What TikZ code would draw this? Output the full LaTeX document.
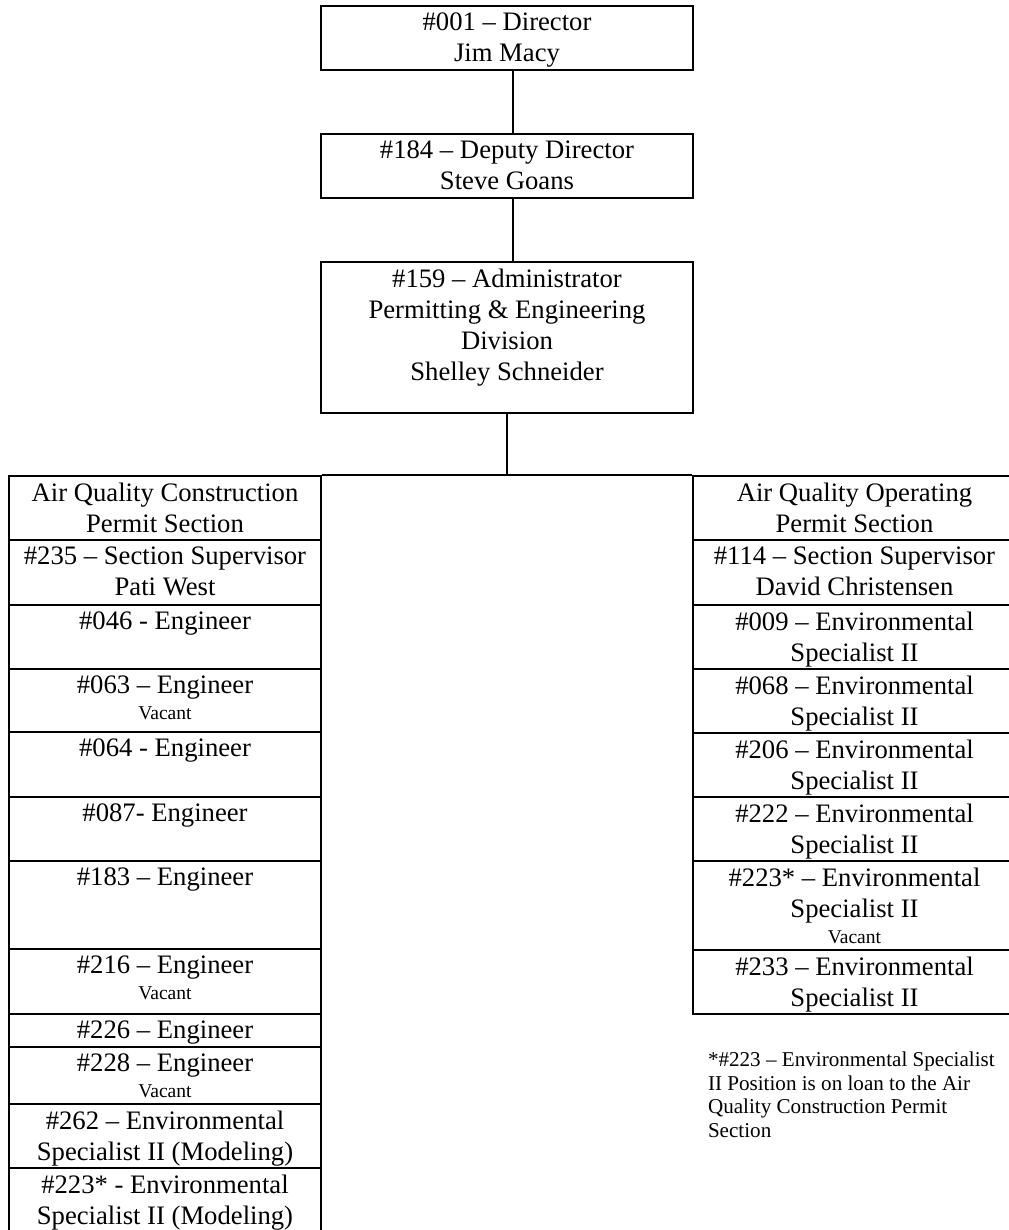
\documentclass[tikz,border=0pt]{standalone}
\usepackage{fontspec}
\setmainfont{Liberation Serif}
\newcommand{\vacfont}{\fontsize{8.8}{10}\selectfont}

\begin{document}
\begin{tikzpicture}[x=0.45pt, y=-0.45pt, line width=0.9pt,
		posbox/.style={draw, inner sep=0pt, anchor=north west, minimum width=167.4pt},
		cellbox/.style={draw, inner sep=0pt, anchor=north west},
		celltext/.style={anchor=north, align=center, inner xsep=0pt, inner ysep=3.1pt, font=\fontsize{12}{13.9}\selectfont}]
	\useasboundingbox (0,0) rectangle (1009,1230);
	\node [posbox, minimum height=28.8pt] (dir) at (320,5) {};
	\node [celltext] (dirt) at (dir.north) {\#001 – Director\\Jim Macy};
	\node [posbox, minimum height=28.8pt] (dep) at (320,133) {};
	\node [celltext] (dept) at (dep.north) {\#184 – Deputy Director\\Steve Goans};
	\node [posbox, minimum height=67.95pt] (adm) at (320,261) {};
	\node [celltext] (admt) at (adm.north) {\#159 – Administrator\\Permitting \& Engineering\\Division\\Shelley Schneider};
	\coordinate (bar) at (506,475);
	\draw ([xshift=2.7pt]dir.south) -- ([xshift=2.7pt]dep.north);
	\draw ([xshift=2.7pt]dep.south) -- ([xshift=2.7pt]adm.north);
	\draw (adm.south) -- (adm.south |- bar);
	\foreach \n/\yt/\yb/\txt in {
			1/475/539/{Air Quality Construction\\Permit Section},
			2/539/604/{\#235 – Section Supervisor\\Pati West},
			3/604/668/{\#046 - Engineer},
			4/668/731/{\#063 – Engineer\\[-2.3pt]{\vacfont Vacant}},
			5/731/796/{\#064 - Engineer},
			6/796/860/{\#087- Engineer},
			7/860/948/{\#183 – Engineer},
			8/948/1013/{\#216 – Engineer\\[-2.3pt]{\vacfont Vacant}},
			9/1013/1046/{\#226 – Engineer},
			10/1046/1103/{\#228 – Engineer\\[-2.3pt]{\vacfont Vacant}},
			11/1103/1167/{\#262 – Environmental\\Specialist II (Modeling)},
			12/1167/1240/{\#223* - Environmental\\Specialist II (Modeling)}} {
		\node [cellbox, minimum width=140.4pt, minimum height={(\yb-\yt)*0.45pt}] (aqc\n) at (8,\yt) {};
		\node [celltext] (aqc\n t) at (aqc\n.north) {\txt};
	}
	\foreach \n/\yt/\yb/\txt in {
			1/475/539/{Air Quality Operating\\Permit Section},
			2/539/604/{\#114 – Section Supervisor\\David Christensen},
			3/604/668/{\#009 – Environmental\\Specialist II},
			4/668/732/{\#068 – Environmental\\Specialist II},
			5/732/796/{\#206 – Environmental\\Specialist II},
			6/796/860/{\#222 – Environmental\\Specialist II},
			7/860/949/{\#223* – Environmental\\Specialist II\\[-2.3pt]{\vacfont Vacant}},
			8/949/1013/{\#233 – Environmental\\Specialist II}} {
		\node [cellbox, minimum width=145.35pt, minimum height={(\yb-\yt)*0.45pt}] (aqo\n) at (692,\yt) {};
		\node [celltext] (aqo\n t) at (aqo\n.north) {\txt};
	}
	\draw (aqc1.north east) -- (aqo1.north west);
	\node [anchor=north west, align=left, inner sep=0pt, font=\fontsize{9.5}{10.6}\selectfont] (note) at (707,1051) {*\#223 – Environmental Specialist\\II Position is on loan to the Air\\Quality Construction Permit\\Section};
\end{tikzpicture}
\end{document}
